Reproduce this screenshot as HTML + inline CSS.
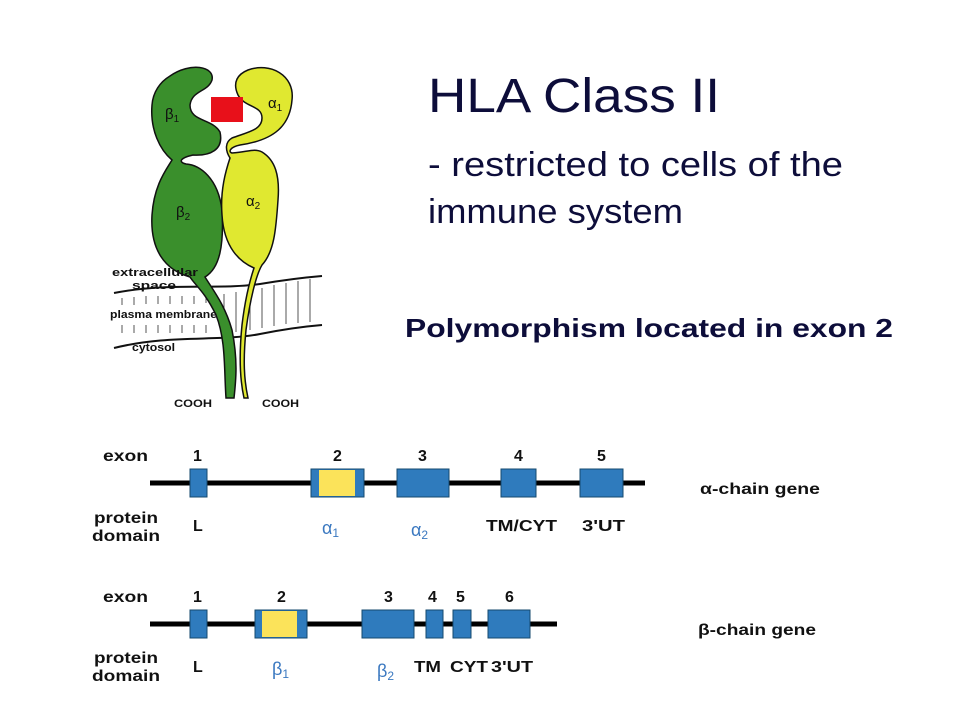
<!DOCTYPE html>
<html><head><meta charset="utf-8"><style>
html,body{margin:0;padding:0;background:#fff;}
svg{display:block;}
text{font-family:"Liberation Sans",sans-serif;}
</style></head><body>
<svg width="960" height="720" viewBox="0 0 960 720" xmlns="http://www.w3.org/2000/svg">
<rect width="960" height="720" fill="#fff"/>
<!-- membrane -->
<path d="M114,293 C170,282 220,290 260,284 C290,279 310,277 322,276" fill="none" stroke="#111" stroke-width="2"/>
<path d="M114,348 C170,334 220,342 260,334 C290,328 310,326 322,325" fill="none" stroke="#111" stroke-width="2"/>
<g stroke="#555" stroke-width="1">
<line x1="122" y1="298" x2="122" y2="305"/><line x1="134" y1="297" x2="134" y2="305"/><line x1="146" y1="296" x2="146" y2="304"/><line x1="158" y1="296" x2="158" y2="304"/><line x1="170" y1="296" x2="170" y2="304"/><line x1="182" y1="296" x2="182" y2="304"/><line x1="194" y1="296" x2="194" y2="304"/><line x1="206" y1="295" x2="206" y2="303"/>
<line x1="122" y1="325" x2="122" y2="333"/><line x1="134" y1="325" x2="134" y2="333"/><line x1="146" y1="325" x2="146" y2="333"/><line x1="158" y1="325" x2="158" y2="333"/><line x1="170" y1="325" x2="170" y2="333"/><line x1="182" y1="325" x2="182" y2="333"/><line x1="194" y1="325" x2="194" y2="333"/><line x1="206" y1="325" x2="206" y2="333"/>
<line x1="224" y1="294" x2="224" y2="334"/><line x1="236" y1="292" x2="236" y2="332"/><line x1="250" y1="290" x2="250" y2="330"/><line x1="262" y1="288" x2="262" y2="328"/><line x1="274" y1="285" x2="274" y2="326"/><line x1="286" y1="283" x2="286" y2="324"/><line x1="298" y1="281" x2="298" y2="323"/><line x1="310" y1="279" x2="310" y2="322"/>
</g>
<!-- beta chain -->
<path d="M170,76 C190,62 215,66 212,80 C208,92 192,90 190,105 C190,122 212,118 220,132 C224,150 210,156 193,155 C180,158 178,162 186,164 C200,165 218,178 222,210 C224,245 220,268 205,277 C213,290 225,305 232,330 C238,360 236,380 234,398 L226,398 C224,370 226,340 216,315 C205,292 195,285 190,277 C165,270 150,250 152,215 C154,185 166,170 172,160 C160,150 150,130 152,105 C153,92 160,82 170,76 Z" fill="#3a8f2c" stroke="#111" stroke-width="1.5"/>
<!-- alpha chain -->
<path d="M248,70 C270,62 295,75 292,100 C290,125 275,140 240,145 C230,147 228,152 232,153 C248,152 254,148 262,152 C275,160 280,175 278,200 C276,230 274,252 262,265 C256,275 250,300 246,330 C243,360 244,380 248,398 L244,398 C240,380 239,355 242,325 C245,300 250,280 254,268 C240,262 224,248 222,215 C220,190 226,170 230,158 C225,150 225,142 232,138 C248,132 262,130 262,118 C262,105 245,108 238,95 C232,82 238,74 248,70 Z" fill="#e0e830" stroke="#111" stroke-width="1.5"/>
<rect x="211" y="97" width="32" height="25" fill="#e8101a"/>
<text x="165" y="119" font-size="15" fill="#111">β<tspan font-size="10" dy="3">1</tspan></text>
<text x="268" y="108" font-size="15" fill="#111">α<tspan font-size="10" dy="3">1</tspan></text>
<text x="176" y="217" font-size="15" fill="#111">β<tspan font-size="10" dy="3">2</tspan></text>
<text x="246" y="206" font-size="15" fill="#111">α<tspan font-size="10" dy="3">2</tspan></text>
<g font-size="11" font-weight="bold" fill="#111">
<text x="112" y="276" textLength="86" lengthAdjust="spacingAndGlyphs">extracellular</text>
<text x="132" y="289" textLength="44" lengthAdjust="spacingAndGlyphs">space</text>
<text x="110" y="318" textLength="107" lengthAdjust="spacingAndGlyphs">plasma membrane</text>
<text x="132" y="351" textLength="43" lengthAdjust="spacingAndGlyphs">cytosol</text>
<text x="174" y="407" textLength="38" lengthAdjust="spacingAndGlyphs">COOH</text>
<text x="262" y="407" textLength="37" lengthAdjust="spacingAndGlyphs">COOH</text>
</g>
<!-- titles -->
<text x="428" y="112" font-size="48" fill="#0d0d3a" textLength="292" lengthAdjust="spacingAndGlyphs">HLA Class II</text>
<text x="428" y="176" font-size="34" fill="#0d0d3a" textLength="415" lengthAdjust="spacingAndGlyphs">-  restricted  to cells  of the</text>
<text x="428" y="223" font-size="34" fill="#0d0d3a" textLength="255" lengthAdjust="spacingAndGlyphs">immune system</text>
<text x="405" y="337" font-size="26" font-weight="bold" fill="#0d0d3a" textLength="488" lengthAdjust="spacingAndGlyphs">Polymorphism  located in exon 2</text>
<!-- alpha gene -->
<g font-size="16" font-weight="bold" fill="#111">
<text x="103" y="461" textLength="45" lengthAdjust="spacingAndGlyphs">exon</text>
<text x="193" y="461">1</text><text x="333" y="461">2</text><text x="418" y="461">3</text><text x="514" y="461">4</text><text x="597" y="461">5</text>
<text x="94" y="523" textLength="64" lengthAdjust="spacingAndGlyphs">protein</text><text x="92" y="541" textLength="68" lengthAdjust="spacingAndGlyphs">domain</text>
<text x="193" y="531">L</text><text x="486" y="531" textLength="71" lengthAdjust="spacingAndGlyphs">TM/CYT</text><text x="582" y="531" textLength="43" lengthAdjust="spacingAndGlyphs">3'UT</text>
<text x="700" y="494" textLength="120" lengthAdjust="spacingAndGlyphs">α-chain gene</text>
</g>
<line x1="150" y1="483" x2="645" y2="483" stroke="#000" stroke-width="5"/>
<g fill="#2f7bbd" stroke="#16496e" stroke-width="1">
<rect x="190" y="469" width="17" height="28"/>
<rect x="311" y="469" width="53" height="28"/>
<rect x="397" y="469" width="52" height="28"/>
<rect x="501" y="469" width="35" height="28"/>
<rect x="580" y="469" width="43" height="28"/>
</g>
<rect x="319" y="470" width="36" height="26" fill="#fbe35a"/>
<g font-family="Liberation Serif,serif" font-size="18" fill="#3a78c0">
<text x="322" y="534">α<tspan font-size="12" dy="3">1</tspan></text>
<text x="411" y="536">α<tspan font-size="12" dy="3">2</tspan></text>
<text x="272" y="675">β<tspan font-size="12" dy="3">1</tspan></text>
<text x="377" y="677">β<tspan font-size="12" dy="3">2</tspan></text>
</g>
<!-- beta gene -->
<g font-size="16" font-weight="bold" fill="#111">
<text x="103" y="602" textLength="45" lengthAdjust="spacingAndGlyphs">exon</text>
<text x="193" y="602">1</text><text x="277" y="602">2</text><text x="384" y="602">3</text><text x="428" y="602">4</text><text x="456" y="602">5</text><text x="505" y="602">6</text>
<text x="94" y="663" textLength="64" lengthAdjust="spacingAndGlyphs">protein</text><text x="92" y="681" textLength="68" lengthAdjust="spacingAndGlyphs">domain</text>
<text x="193" y="672">L</text><text x="414" y="672" textLength="27" lengthAdjust="spacingAndGlyphs">TM</text><text x="450" y="672" textLength="38" lengthAdjust="spacingAndGlyphs">CYT</text><text x="491" y="672" textLength="42" lengthAdjust="spacingAndGlyphs">3'UT</text>
<text x="698" y="635" textLength="118" lengthAdjust="spacingAndGlyphs">β-chain gene</text>
</g>
<line x1="150" y1="624" x2="557" y2="624" stroke="#000" stroke-width="5"/>
<g fill="#2f7bbd" stroke="#16496e" stroke-width="1">
<rect x="190" y="610" width="17" height="28"/>
<rect x="255" y="610" width="52" height="28"/>
<rect x="362" y="610" width="52" height="28"/>
<rect x="426" y="610" width="17" height="28"/>
<rect x="453" y="610" width="18" height="28"/>
<rect x="488" y="610" width="42" height="28"/>
</g>
<rect x="262" y="611" width="35" height="26" fill="#fbe35a"/>
</svg>
</body></html>
